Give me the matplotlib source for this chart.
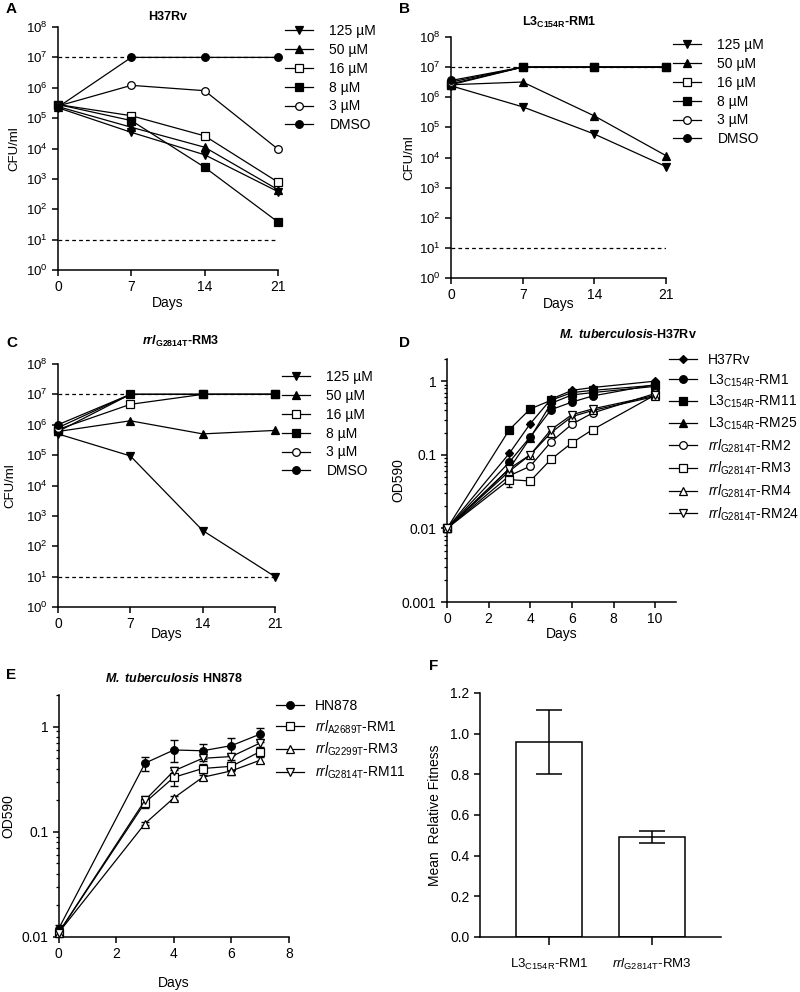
import matplotlib
matplotlib.use('Agg')
import matplotlib.pyplot as plt
import numpy as np
from matplotlib.ticker import LogLocator, LogFormatterMathtext, FuncFormatter, NullLocator, NullFormatter

plt.rcParams['font.family'] = ['Liberation Sans', 'DejaVu Sans']
plt.rcParams['mathtext.fontset'] = 'custom'
plt.rcParams['mathtext.rm'] = 'Liberation Sans'
plt.rcParams['mathtext.it'] = 'Liberation Sans:italic'
plt.rcParams['mathtext.bf'] = 'Liberation Sans:bold'
plt.rcParams['mathtext.bfit'] = 'Liberation Sans:italic:bold'
plt.rcParams['mathtext.default'] = 'regular'

# ---- data ----
kill_days = [0, 7, 14, 21]
conc_labels = ['125 µM', '50 µM', '16 µM', '8 µM', '3 µM', 'DMSO']

# order follows conc_labels
cfu_h37rv = [
    [2.2e5, 3.4e4, 6.2e3, 3.8e2],
    [2.4e5, 5.0e4, 1.1e4, 4.4e2],
    [2.8e5, 1.2e5, 2.6e4, 7.8e2],
    [2.8e5, 8.3e4, 2.4e3, 3.8e1],
    [2.5e5, 1.2e6, 8.0e5, 9.5e3],
    [2.3e5, 1.0e7, 1.0e7, 1.0e7],
]
cfu_l3_rm1 = [
    [2.4e6, 4.8e5, 6.0e4, 5.0e3],
    [2.6e6, 3.2e6, 2.4e5, 1.15e4],
    [2.8e6, 1.0e7, 1.0e7, 1.0e7],
    [2.6e6, 1.0e7, 1.0e7, 1.0e7],
    [3.2e6, 1.0e7, 1.0e7, 1.0e7],
    [3.6e6, 1.0e7, 1.0e7, 1.0e7],
]
cfu_rrl_rm3 = [
    [5.0e5, 9.4e4, 3.3e2, 1.0e1],
    [6.0e5, 1.35e6, 5.0e5, 6.5e5],
    [7.0e5, 4.7e6, 1.0e7, 1.0e7],
    [6.0e5, 1.0e7, 1.0e7, 1.0e7],
    [8.0e5, 1.0e7, 1.0e7, 1.0e7],
    [1.0e6, 1.0e7, 1.0e7, 1.0e7],
]
cfu_limits = [1e7, 1e1]

growth_days_d = [0, 3, 4, 5, 6, 7, 10]
strains_d = ['H37Rv', 'L3$_{C154R}$-RM1', 'L3$_{C154R}$-RM11', 'L3$_{C154R}$-RM25',
             '$\\mathit{rrl}_{G2814T}$-RM2', '$\\mathit{rrl}_{G2814T}$-RM3',
             '$\\mathit{rrl}_{G2814T}$-RM4', '$\\mathit{rrl}_{G2814T}$-RM24']
od_d = [
    [0.01, 0.105, 0.265, 0.57, 0.75, 0.82, 1.0],
    [0.01, 0.08, 0.175, 0.41, 0.52, 0.63, 0.9],
    [0.01, 0.22, 0.42, 0.55, 0.70, 0.75, 0.88],
    [0.01, 0.065, 0.17, 0.50, 0.65, 0.70, 0.85],
    [0.01, 0.052, 0.07, 0.15, 0.26, 0.37, 0.68],
    [0.01, 0.046, 0.044, 0.087, 0.145, 0.22, 0.65],
    [0.01, 0.06, 0.10, 0.20, 0.33, 0.40, 0.62],
    [0.01, 0.065, 0.10, 0.22, 0.35, 0.42, 0.64],
]
od_d_err = [
    [0, 0.005, 0.01, 0.02, 0.02, 0.02, 0.03],
    [0, 0.005, 0.01, 0.02, 0.02, 0.02, 0.03],
    [0, 0.01, 0.01, 0.02, 0.02, 0.02, 0.03],
    [0, 0.005, 0.01, 0.02, 0.02, 0.02, 0.03],
    [0, 0.005, 0.005, 0.01, 0.01, 0.02, 0.03],
    [0, 0.009, 0.003, 0.005, 0.005, 0.01, 0.03],
    [0, 0.005, 0.005, 0.01, 0.01, 0.02, 0.03],
    [0, 0.005, 0.005, 0.01, 0.01, 0.02, 0.03],
]

growth_days_e = [0, 3, 4, 5, 6, 7]
strains_e = ['HN878', '$\\mathit{rrl}_{A2689T}$-RM1', '$\\mathit{rrl}_{G2299T}$-RM3',
             '$\\mathit{rrl}_{G2814T}$-RM11']
od_e = [
    [0.012, 0.45, 0.60, 0.59, 0.66, 0.85],
    [0.011, 0.19, 0.33, 0.40, 0.42, 0.58],
    [0.011, 0.12, 0.21, 0.33, 0.38, 0.48],
    [0.011, 0.20, 0.38, 0.50, 0.52, 0.70],
]
od_e_err = [
    [0.001, 0.07, 0.14, 0.10, 0.12, 0.13],
    [0.0, 0.02, 0.06, 0.04, 0.04, 0.05],
    [0.0, 0.005, 0.01, 0.02, 0.03, 0.03],
    [0.0, 0.02, 0.03, 0.03, 0.04, 0.06],
]

fitness_labels = ['L3$_{C154R}$-RM1', '$\\mathit{rrl}_{G2814T}$-RM3']
fitness_mean = [0.96, 0.49]
fitness_err = [0.157, 0.03]

# ---- styles ----
conc_styles = [('v', 'k'), ('^', 'k'), ('s', 'w'), ('s', 'k'), ('o', 'w'), ('o', 'k')]
d_styles = [('D', 'k'), ('o', 'k'), ('s', 'k'), ('^', 'k'), ('o', 'w'), ('s', 'w'), ('^', 'w'), ('v', 'w')]
e_styles = [('o', 'k'), ('s', 'w'), ('^', 'w'), ('v', 'w')]

W, H = 800, 992
fig = plt.figure(figsize=(8, 9.92), dpi=100)


def px_axes(left, top, right, bottom):
    return fig.add_axes([left / W, 1 - bottom / H, (right - left) / W, (bottom - top) / H])


def base_style(ax):
    for s in ['top', 'right']:
        ax.spines[s].set_visible(False)
    for s in ['left', 'bottom']:
        ax.spines[s].set_linewidth(1.1)
    ax.tick_params(width=1.1, length=4, labelsize=10, direction='out')
    ax.tick_params(which='minor', width=0.9, length=2.5)


def msize(m):
    return {'D': 4.2, 'v': 6, '^': 6}.get(m, 5.5)


def legend_at(ax, x, y, spacing=0.35, textpad=1.2):
    ax.legend(loc='upper left', bbox_to_anchor=(x / W, 1 - y / H), bbox_transform=fig.transFigure,
              frameon=False, fontsize=10, handlelength=2.0, handletextpad=textpad,
              labelspacing=spacing, borderpad=0, borderaxespad=0)


def kill_panel(ax, data, title_xy, title, legend_xy, xlab_y, ylab_x):
    base_style(ax)
    ax.set_yscale('log')
    for lim in cfu_limits:
        ax.plot([0, 21], [lim, lim], color='k', lw=0.9, ls=(0, (3, 2.5)), zorder=1)
    for vals, lab, (m, fc) in zip(data, conc_labels, conc_styles):
        ax.plot(kill_days, vals, color='k', lw=0.9, marker=m, ms=msize(m), mfc=fc, mec='k',
                mew=0.9, label=lab, clip_on=False, zorder=3)
    ax.set_xlim(0, 21)
    ax.set_ylim(1, 1e8)
    ax.set_xticks(kill_days)
    ax.yaxis.set_major_locator(LogLocator(base=10, numticks=12))
    ax.yaxis.set_minor_locator(NullLocator())
    ax.yaxis.set_major_formatter(LogFormatterMathtext())
    ax.tick_params(axis='y', labelsize=9.5)
    ax.set_xlabel('Days', fontsize=10)
    ax.set_ylabel('CFU/ml', fontsize=9.5)
    ax.xaxis.set_label_coords(0.5, xlab_y)
    ax.yaxis.set_label_coords(ylab_x, 0.5)
    fig.text(title_xy[0] / W, 1 - title_xy[1] / H, title, ha='center', va='center',
             fontsize=9, fontweight='bold')
    legend_at(ax, *legend_xy)


axA = px_axes(58, 27, 278, 270)
kill_panel(axA, cfu_h37rv, (168, 17), 'H37Rv', (285, 24), -0.107, -0.173)
axB = px_axes(451, 37, 666, 278)
kill_panel(axB, cfu_l3_rm1, (559, 22), 'L3$_{\\mathbf{C154R}}$-RM1', (673, 38), -0.079, -0.167)
axC = px_axes(58, 364, 275, 607)
kill_panel(axC, cfu_rrl_rm3, (181, 341), '$\\mathbfit{rrl}_{\\mathbf{G2814T}}$-RM3', (282, 370), -0.082, -0.19)


def od_formatter(v, pos):
    return '%g' % v


def growth_panel(ax, days, data, errs, labels, styles, capsize):
    base_style(ax)
    ax.set_yscale('log')
    for vals, err, lab, (m, fc) in zip(data, errs, labels, styles):
        ax.errorbar(days, vals, yerr=err, fmt='none', ecolor='k', elinewidth=0.9,
                    capsize=capsize, clip_on=False, zorder=2)
        ax.plot(days, vals, color='k', lw=0.9, marker=m, ms=msize(m), mfc=fc,
                mec='k', mew=0.9, label=lab, clip_on=False, zorder=3)
    ax.yaxis.set_major_locator(LogLocator(base=10, numticks=12))
    ax.yaxis.set_minor_locator(LogLocator(base=10, subs=np.arange(2, 10), numticks=12))
    ax.yaxis.set_major_formatter(FuncFormatter(od_formatter))
    ax.yaxis.set_minor_formatter(NullFormatter())
    ax.set_xlabel('Days', fontsize=10)
    ax.set_ylabel('OD590', fontsize=10)


# panel D
axD = px_axes(447, 359, 676, 602)
growth_panel(axD, growth_days_d, od_d, od_d_err, strains_d, d_styles, 2.5)
axD.set_xlim(0, 11)
axD.set_ylim(0.001, 2)
axD.set_xticks([0, 2, 4, 6, 8, 10])
axD.xaxis.set_label_coords(0.5, -0.103)
axD.yaxis.set_label_coords(-0.183, 0.5)
fig.text(628 / W, 1 - 335 / H, '$\\mathbfit{M.\\ tuberculosis}$-H37Rv', ha='center', va='center',
         fontsize=9, fontweight='bold')
legend_at(axD, 669, 353, spacing=0.38, textpad=0.8)

# panel E
axE = px_axes(58.7, 695, 289, 937)
growth_panel(axE, growth_days_e, od_e, od_e_err, strains_e, e_styles, 3)
axE.set_xlim(0, 8)
axE.set_ylim(0.01, 2)
axE.set_xticks([0, 2, 4, 6, 8])
axE.xaxis.set_label_coords(0.5, -0.161)
axE.yaxis.set_label_coords(-0.186, 0.5)
fig.text(174 / W, 1 - 678 / H, '$\\mathbfit{M.\\ tuberculosis}$ HN878', ha='center', va='center',
         fontsize=9, fontweight='bold')
legend_at(axE, 276, 699, spacing=0.38, textpad=0.8)

# panel F
axF = px_axes(480, 693, 721, 937)
base_style(axF)
xpos = np.arange(len(fitness_mean))
axF.bar(xpos, fitness_mean, width=0.65, color='white', edgecolor='k', linewidth=1.1, zorder=2)
axF.errorbar(xpos, fitness_mean, yerr=fitness_err, fmt='none', ecolor='k', elinewidth=1.1,
             capsize=9.5, capthick=1.1, zorder=3)
axF.set_xlim(-0.67, 1.67)
axF.set_ylim(0, 1.2)
axF.set_yticks(np.arange(0, 1.21, 0.2))
axF.yaxis.set_major_formatter(FuncFormatter(lambda v, p: '%.1f' % v))
axF.set_xticks(xpos)
axF.set_xticklabels(fitness_labels, fontsize=9.5)
axF.tick_params(axis='x', length=6, pad=8)
axF.tick_params(axis='y', labelsize=10)
axF.set_ylabel('Mean  Relative Fitness', fontsize=10)
axF.yaxis.set_label_coords(-0.158, 0.5)

# panel letters
for letter, (x, y) in zip('ABCDEF', [(11, 9), (404, 9), (12, 343), (404, 343), (11, 675), (434, 666)]):
    fig.text(x / W, 1 - y / H, letter, ha='center', va='center', fontsize=11, fontweight='bold')

fig.savefig('out.png', dpi=100)
